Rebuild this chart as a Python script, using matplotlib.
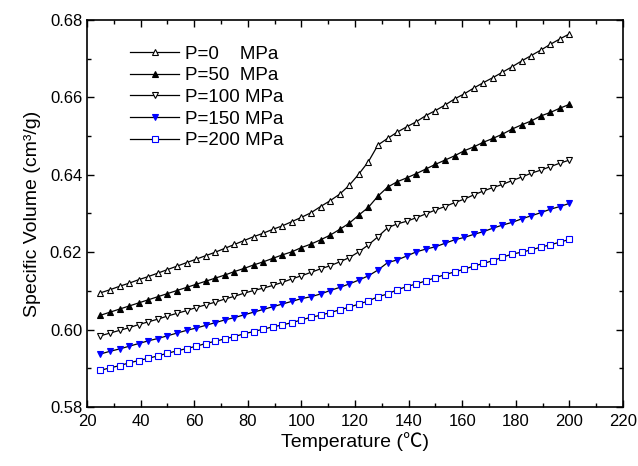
import numpy as np
import matplotlib
matplotlib.use("Agg")
import matplotlib.pyplot as plt
from matplotlib.ticker import MultipleLocator

plt.rcParams['font.family'] = ['Liberation Sans', 'DejaVu Sans']

# temperature grid, 50 points from 25 to 200 C
temperature = np.linspace(25, 200, 50)

p0 = [0.6095, 0.6103, 0.6112, 0.6120, 0.6129, 0.6137, 0.6146, 0.6155, 0.6164, 0.6173,
      0.6182, 0.6191, 0.6200, 0.6210, 0.6220, 0.6230, 0.6240, 0.6249, 0.6259, 0.6268,
      0.6279, 0.6290, 0.6302, 0.6318, 0.6333, 0.6350, 0.6373, 0.6402, 0.6434, 0.6477,
      0.6494, 0.6510, 0.6524, 0.6537, 0.6553, 0.6566, 0.6580, 0.6596, 0.6609, 0.6624,
      0.6638, 0.6651, 0.6665, 0.6679, 0.6694, 0.6708, 0.6722, 0.6737, 0.6751, 0.6764]

p50 = [0.6037, 0.6045, 0.6053, 0.6061, 0.6069, 0.6077, 0.6085, 0.6093, 0.6101, 0.6109,
       0.6117, 0.6125, 0.6133, 0.6141, 0.6150, 0.6158, 0.6167, 0.6175, 0.6184, 0.6193,
       0.6201, 0.6212, 0.6221, 0.6232, 0.6244, 0.6259, 0.6275, 0.6296, 0.6316, 0.6345,
       0.6368, 0.6382, 0.6392, 0.6403, 0.6415, 0.6427, 0.6438, 0.6449, 0.6462, 0.6472,
       0.6484, 0.6494, 0.6505, 0.6518, 0.6529, 0.6539, 0.6552, 0.6561, 0.6572, 0.6582]

p100 = [0.5984, 0.5991, 0.5998, 0.6005, 0.6013, 0.6020, 0.6027, 0.6035, 0.6042, 0.6049,
        0.6057, 0.6064, 0.6071, 0.6079, 0.6086, 0.6094, 0.6101, 0.6107, 0.6114, 0.6122,
        0.6131, 0.6139, 0.6148, 0.6157, 0.6165, 0.6175, 0.6186, 0.6201, 0.6219, 0.6240,
        0.6263, 0.6273, 0.6280, 0.6289, 0.6299, 0.6309, 0.6318, 0.6328, 0.6337, 0.6348,
        0.6358, 0.6367, 0.6375, 0.6385, 0.6394, 0.6404, 0.6412, 0.6421, 0.6430, 0.6438]

p150 = [0.5937, 0.5944, 0.5950, 0.5957, 0.5964, 0.5971, 0.5977, 0.5984, 0.5991, 0.5998,
        0.6004, 0.6011, 0.6018, 0.6025, 0.6031, 0.6038, 0.6045, 0.6052, 0.6059, 0.6066,
        0.6073, 0.6080, 0.6085, 0.6092, 0.6101, 0.6109, 0.6118, 0.6128, 0.6139, 0.6154,
        0.6173, 0.6180, 0.6190, 0.6201, 0.6208, 0.6214, 0.6223, 0.6232, 0.6238, 0.6246,
        0.6253, 0.6262, 0.6270, 0.6277, 0.6286, 0.6294, 0.6302, 0.6311, 0.6318, 0.6326]

p200 = [0.5895, 0.5901, 0.5907, 0.5914, 0.5920, 0.5926, 0.5932, 0.5939, 0.5945, 0.5951,
        0.5957, 0.5964, 0.5970, 0.5976, 0.5982, 0.5989, 0.5995, 0.6001, 0.6007, 0.6012,
        0.6018, 0.6025, 0.6032, 0.6037, 0.6044, 0.6051, 0.6058, 0.6066, 0.6074, 0.6085,
        0.6092, 0.6103, 0.6111, 0.6118, 0.6126, 0.6134, 0.6142, 0.6149, 0.6156, 0.6164,
        0.6171, 0.6178, 0.6187, 0.6195, 0.6200, 0.6206, 0.6213, 0.6219, 0.6226, 0.6233]

labels = ['P=0    MPa', 'P=50  MPa', 'P=100 MPa', 'P=150 MPa', 'P=200 MPa']

fig = plt.figure(figsize=(6.38, 4.66), dpi=100)
ax = fig.add_axes([0.1364, 0.1266, 0.8401, 0.8305])

ms = 5
ax.plot(temperature, p0, color='black', lw=0.9, marker='^', ms=ms,
        mfc='white', mec='black', mew=0.8, label=labels[0])
ax.plot(temperature, p50, color='black', lw=0.9, marker='^', ms=ms,
        mfc='black', mec='black', mew=0.8, label=labels[1])
ax.plot(temperature, p100, color='black', lw=0.9, marker='v', ms=ms,
        mfc='white', mec='black', mew=0.8, label=labels[2])
ax.plot(temperature, p150, color='black', lw=0.9, marker='v', ms=ms,
        mfc='blue', mec='blue', mew=0.8, label=labels[3])
ax.plot(temperature, p200, color='black', lw=0.9, marker='s', ms=4.2,
        mfc='white', mec='blue', mew=0.8, label=labels[4])

ax.set_xlim(20, 220)
ax.set_ylim(0.58, 0.68)
ax.xaxis.set_major_locator(MultipleLocator(20))
ax.xaxis.set_minor_locator(MultipleLocator(10))
ax.yaxis.set_major_locator(MultipleLocator(0.02))
ax.yaxis.set_minor_locator(MultipleLocator(0.01))
ax.yaxis.set_major_formatter(matplotlib.ticker.FormatStrFormatter('%.2f'))

ax.tick_params(which='both', direction='in', top=True, right=True, labelsize=12, width=1)
ax.tick_params(which='major', length=5)
ax.tick_params(which='minor', length=3)
ax.tick_params(axis='x', pad=5)
for sp in ax.spines.values():
    sp.set_linewidth(1.2)

ax.set_xlabel('Temperature (\u2103)', fontsize=14, family=['Liberation Sans', 'Noto Sans CJK SC'], labelpad=2)
ax.set_ylabel('Specific Volume (cm\u00b3/g)', fontsize=14, labelpad=6)

ax.legend(loc='upper left', bbox_to_anchor=(0.06, 0.963), frameon=False, fontsize=13.5,
          numpoints=1, handlelength=2.6, handletextpad=0.3, labelspacing=0.24, borderaxespad=0.2)

fig.savefig('out.png', dpi=100)
